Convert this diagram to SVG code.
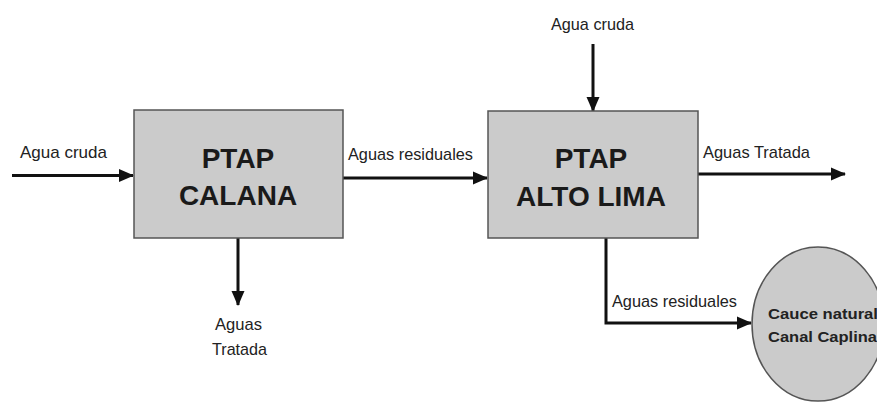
<svg xmlns="http://www.w3.org/2000/svg" width="877" height="403" viewBox="0 0 877 403">
<style>
.box{fill:#cbcbcb;stroke:#555;stroke-width:1.5}
.title{font-family:"Liberation Sans",Arial,sans-serif;font-weight:bold;font-size:28px;fill:#1a1a1a;text-anchor:middle}
.lbl{font-family:"Liberation Sans",Arial,sans-serif;font-size:17px;fill:#222}
.ctext{font-family:"Liberation Sans",Arial,sans-serif;font-weight:bold;font-size:14px;fill:#222}
.con{fill:none;stroke:#111;stroke-width:3}
</style>
<defs>
<marker id="ah" markerUnits="userSpaceOnUse" markerWidth="16" markerHeight="16" viewBox="0 0 16 16" refX="14" refY="8" orient="auto">
<path d="M0,1.5 L15,8 L0,14.5 Z" fill="#111"/>
</marker>
</defs>
<rect width="877" height="403" fill="#fff"/>
<g id="connectors">
<line class="con" x1="12" y1="175.5" x2="133" y2="175.5" marker-end="url(#ah)"/>
<line class="con" x1="343" y1="178" x2="487" y2="178" marker-end="url(#ah)"/>
<line class="con" x1="238" y1="238" x2="238" y2="305" marker-end="url(#ah)"/>
<line class="con" x1="593" y1="44" x2="593" y2="111" marker-end="url(#ah)"/>
<line class="con" x1="698" y1="174" x2="845" y2="174" marker-end="url(#ah)"/>
<polyline class="con" points="606,238 606,323 751,323" marker-end="url(#ah)"/>
<text class="lbl" x="20" y="158" textLength="87" lengthAdjust="spacingAndGlyphs">Agua cruda</text>
<text class="lbl" x="348" y="160" textLength="125" lengthAdjust="spacingAndGlyphs">Aguas residuales</text>
<text class="lbl" x="215" y="330" textLength="47" lengthAdjust="spacingAndGlyphs">Aguas</text>
<text class="lbl" x="212" y="355" textLength="55" lengthAdjust="spacingAndGlyphs">Tratada</text>
<text class="lbl" x="551" y="30" textLength="83" lengthAdjust="spacingAndGlyphs">Agua cruda</text>
<text class="lbl" x="703" y="158" textLength="107" lengthAdjust="spacingAndGlyphs">Aguas Tratada</text>
<text class="lbl" x="612" y="307" textLength="125" lengthAdjust="spacingAndGlyphs">Aguas residuales</text>
</g>
<g id="ptap-calana">
<rect class="box" x="134" y="110" width="209" height="128"/>
<text class="title" x="238" y="168">PTAP</text>
<text class="title" x="238" y="205">CALANA</text>
</g>
<g id="ptap-alto-lima">
<rect class="box" x="488" y="111" width="210" height="127"/>
<text class="title" x="591" y="168">PTAP</text>
<text class="title" x="591" y="206">ALTO LIMA</text>
</g>
<g id="cauce-natural">
<ellipse cx="818" cy="324" rx="66" ry="77" fill="#cbcbcb" stroke="#555" stroke-width="1.5"/>
<text class="ctext" x="768" y="319" textLength="110" lengthAdjust="spacingAndGlyphs">Cauce natural</text>
<text class="ctext" x="768" y="342" textLength="109" lengthAdjust="spacingAndGlyphs">Canal Caplina</text>
</g>
</svg>
